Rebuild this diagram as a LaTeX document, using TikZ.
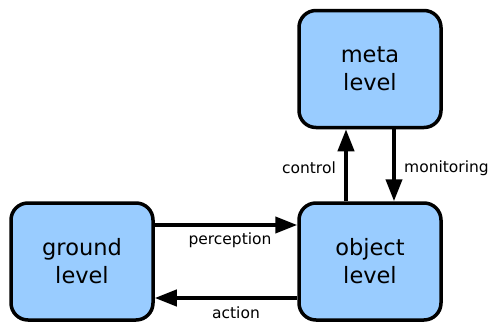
\documentclass[tikz,border=0pt]{standalone}
\usepackage{fontspec}
\setmainfont{DejaVu Sans}
\usetikzlibrary{arrows.meta}
\definecolor{levelfill}{HTML}{99CCFF}
\tikzset{
  level/.style={draw=black, line width=3.5pt, fill=levelfill, rounded corners=17pt,
    minimum width=142pt, minimum height=117pt, inner sep=0pt, align=center,
    font=\fontsize{22.5}{28}\selectfont},
  flow/.style={line width=4pt, -{Triangle[length=22pt,width=16pt]}},
  tag/.style={inner sep=0pt, font=\fontsize{15.5}{18}\selectfont}
}
\begin{document}
\begin{tikzpicture}[x=1pt,y=-1pt]
  \useasboundingbox (0,0) rectangle (491,322);
  \node[level] (meta)   at (370,69)    {meta\\level};
  \node[level] (object) at (370,261.5) {object\\level};
  \node[level] (ground) at (82,261.5)  {ground\\level};

  \draw[flow] ([xshift=-24pt]object.north) -- ([xshift=-24pt]meta.south);
  \draw[flow] ([xshift=24pt]meta.south) -- ([xshift=24pt]object.north);
  \draw[flow] ([yshift=36.5pt]ground.east) -- ([yshift=36.5pt]object.west);
  \draw[flow] ([yshift=-36.5pt]object.west) -- ([yshift=-36.5pt]ground.east);

  \node[tag, anchor=east] (lcontrol) at (336,168) {control};
  \node[tag, anchor=west] (lmonitor) at (404,168) {monitoring};
  \node[tag] (lperception) at (230,240) {perception};
  \node[tag] (laction) at (236,312.5) {action};
\end{tikzpicture}
\end{document}
